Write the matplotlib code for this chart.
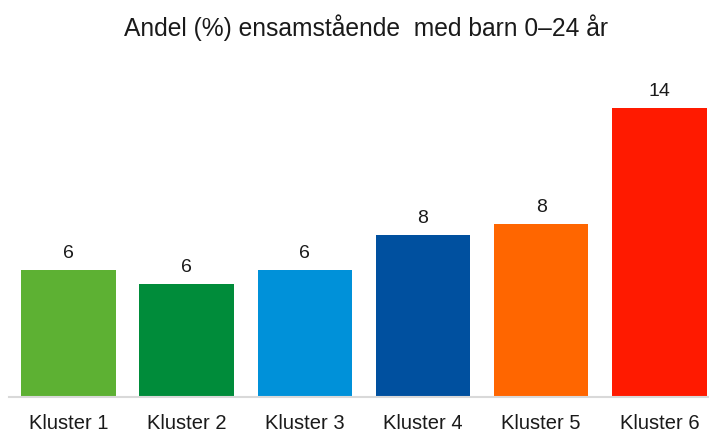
import matplotlib.pyplot as plt

plt.rcParams['font.family'] = ['Liberation Sans', 'DejaVu Sans']

clusters = ['Kluster 1', 'Kluster 2', 'Kluster 3', 'Kluster 4', 'Kluster 5', 'Kluster 6']
share_pct = [6.2, 5.5, 6.2, 7.9, 8.45, 14.1]
colors = ['#5DB133', '#008C3A', '#0091D9', '#00509F', '#FF6600', '#FF1A00']

fig = plt.figure(figsize=(7.09, 4.32), dpi=100)
ax = fig.add_axes([0.0133, 0.081, 1.0, 0.754])

x = range(len(clusters))
bars = ax.bar(x, share_pct, width=0.8, color=colors)

for rect, v in zip(bars, share_pct):
    ax.annotate(str(int(v + 0.5)), (rect.get_x() + rect.get_width() / 2, rect.get_height()),
                xytext=(0, 6), textcoords='offset points', ha='center', va='bottom',
                fontsize=14, color='#1a1a1a')

ax.set_xlim(-0.5, 5.5)
ax.set_ylim(0, 15.9)
ax.set_xticks(list(x))
ax.set_xticklabels(clusters, fontsize=14.5, color='#1a1a1a')
ax.tick_params(axis='x', length=0, pad=12)
ax.set_yticks([])

for s in ['top', 'right', 'left']:
    ax.spines[s].set_visible(False)
ax.spines['bottom'].set_color('#d9d9d9')
ax.spines['bottom'].set_linewidth(1.5)

fig.text(0.516, 0.935, 'Andel (%) ensamstående  med barn 0\u201324 år', ha='center', va='center',
         fontsize=17.7, color='#1a1a1a')

fig.savefig('out.png', dpi=100)
